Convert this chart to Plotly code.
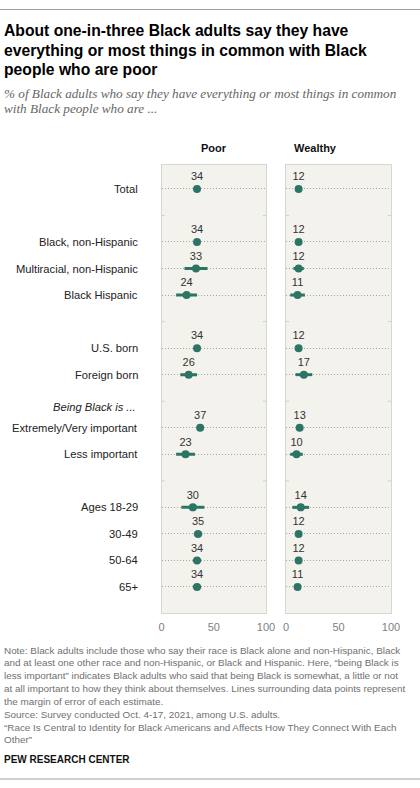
import plotly.graph_objects as go

# row order on the chart, blank strings are the gaps between groups
rows = ["Total", " ", "Black, non-Hispanic", "Multiracial, non-Hispanic",
        "Black Hispanic", "  ", "U.S. born", "Foreign born",
        "Being Black is ...", "Extremely/Very important", "Less important",
        "   ", "Ages 18-29", "30-49", "50-64", "65+"]

groups = ["Total", "Black, non-Hispanic", "Multiracial, non-Hispanic",
          "Black Hispanic", "U.S. born", "Foreign born",
          "Extremely/Very important", "Less important",
          "Ages 18-29", "30-49", "50-64", "65+"]

poor = [34, 34, 33, 24, 34, 26, 37, 23, 30, 35, 34, 34]
poor_moe = [2, 2, 11, 10, 2, 8, 3, 9, 11, 4, 4, 4]

wealthy = [12, 12, 12, 11, 12, 17, 13, 10, 14, 12, 12, 11]
wealthy_moe = [2, 2, 5, 7, 2, 8, 2, 6, 8, 3, 3, 3]

panels = ["Poor", "Wealthy"]
x_ticks = [0, 50, 100]

TEAL = "#2c7564"
W, H = 420, 788
SANS = "Liberation Sans, Arial, sans-serif"


def px(x):
    return x / W


def py(y):
    return 1 - y / H


fig = go.Figure()

for i, (vals, moe) in enumerate([(poor, poor_moe), (wealthy, wealthy_moe)]):
    sfx = "" if i == 0 else str(i + 1)
    fig.add_trace(go.Scatter(
        x=vals, y=groups, xaxis="x" + sfx, yaxis="y" + sfx,
        mode="markers+text", text=[str(v) for v in vals],
        textposition="top center",
        textfont=dict(family=SANS, size=11, color="#333333"),
        marker=dict(size=8, color=TEAL),
        error_x=dict(type="data", array=moe, thickness=3, width=0, color=TEAL),
        cliponaxis=False, hoverinfo="skip", showlegend=False))

x_domains = [[px(161.5), px(266)], [px(286), px(391)]]
y_domain = [py(613), py(165)]

axis_x = dict(range=[0, 100], tickvals=x_ticks, showgrid=False, zeroline=False,
              showline=True, mirror=True, linecolor="#d6d6d2", linewidth=1,
              ticks="", ticklabelstandoff=4, automargin=False,
              tickfont=dict(family=SANS, size=11, color="#808080"))
axis_y = dict(type="category", categoryorder="array", categoryarray=rows,
              range=[15.98, -0.9], tickvals=groups, showticklabels=False,
              showgrid=True, gridcolor="#a8a8a8", griddash="1px,2px", gridwidth=1,
              zeroline=False, showline=True, mirror=True, automargin=False,
              linecolor="#d6d6d2", linewidth=1, ticks="")

fig.update_layout(
    width=W, height=H, autosize=False,
    margin=dict(l=0, r=0, t=0, b=0, pad=0),
    paper_bgcolor="white", plot_bgcolor="#f3f2ed", showlegend=False,
    xaxis=dict(axis_x, domain=x_domains[0], anchor="y"),
    xaxis2=dict(axis_x, domain=x_domains[1], anchor="y2"),
    yaxis=dict(axis_y, domain=y_domain, anchor="x"),
    yaxis2=dict(axis_y, domain=y_domain, anchor="x2"),
)

ann = []

# left row labels
for g in groups:
    ann.append(dict(text=g, x=px(140), xref="paper", xanchor="right",
                    y=g, yref="y", yanchor="middle", showarrow=False,
                    font=dict(family=SANS, size=11.2, color="#222222")))
ann.append(dict(text="<i>Being Black is ...</i>", x=px(138), xref="paper",
                xanchor="right", y="Being Black is ...", yref="y",
                yanchor="middle", yshift=-6, showarrow=False,
                font=dict(family=SANS, size=11.2, color="#222222")))

# small tick marks at the gaps, on both panel edges
for i in range(2):
    sfx = "" if i == 0 else str(i + 1)
    for r in [" ", "  ", "Being Black is ...", "   "]:
        for x0, x1 in [(0, 0.03), (0.97, 1)]:
            fig.add_shape(type="line", xref="x%s domain" % sfx, yref="y" + sfx,
                          x0=x0, x1=x1, y0=r, y1=r,
                          line=dict(color="#cfcfcb", width=1))

# panel headers
for i, name in enumerate(panels):
    ann.append(dict(text="<b>%s</b>" % name, x=sum(x_domains[i]) / 2,
                    xref="paper", y=py(148), yref="paper", yanchor="middle",
                    showarrow=False,
                    font=dict(family=SANS, size=11, color="#111111")))

# title
title_lines = ["About one-in-three Black adults say they have",
               "everything or most things in common with Black",
               "people who are poor"]
for k, line in enumerate(title_lines):
    ann.append(dict(text="<b>%s</b>" % line, x=px(2), xref="paper",
                    xanchor="left", y=py(31 + 19.5 * k), yref="paper",
                    yanchor="middle", showarrow=False,
                    font=dict(family=SANS, size=15.7, color="#000000")))

subtitle_lines = ["% of Black adults who say they have everything or most things in common",
                  "with Black people who are ..."]
for k, line in enumerate(subtitle_lines):
    ann.append(dict(text="<i>%s</i>" % line, x=px(2), xref="paper",
                    xanchor="left", y=py(93 + 15.5 * k), yref="paper",
                    yanchor="middle", showarrow=False,
                    font=dict(family="Liberation Serif, serif", size=13.2,
                              color="#666666")))

note_lines = [
    "Note: Black adults include those who say their race is Black alone and non-Hispanic, Black",
    "and at least one other race and non-Hispanic, or Black and Hispanic. Here, \u201cbeing Black is",
    "less important\u201d indicates Black adults who said that being Black is somewhat, a little or not",
    "at all important to how they think about themselves. Lines surrounding data points represent",
    "the margin of error of each estimate.",
    "Source: Survey conducted Oct. 4-17, 2021, among U.S. adults.",
    "\u201cRace Is Central to Identity for Black Americans and Affects How They Connect With Each",
    "Other\u201d",
]
for k, line in enumerate(note_lines):
    ann.append(dict(text=line, x=px(2), xref="paper", xanchor="left",
                    y=py(650 + 12.85 * k), yref="paper", yanchor="middle",
                    showarrow=False,
                    font=dict(family=SANS, size=9.9, color="#707070")))

ann.append(dict(text="<b>PEW RESEARCH CENTER</b>", x=px(2), xref="paper",
                xanchor="left", y=py(759), yref="paper", yanchor="middle",
                showarrow=False,
                font=dict(family=SANS, size=10, color="#111111")))

fig.update_layout(annotations=ann)

# rules at top and bottom
for yy in [9.5, 779]:
    fig.add_shape(type="line", xref="paper", yref="paper", x0=0, x1=1,
                  y0=py(yy), y1=py(yy), line=dict(color="#a0a0a0", width=1))

# drop the page's default body margin so the figure sits at 0,0
page_js = ("document.documentElement.style.margin='0';"
           "document.body.style.margin='0';"
           "document.body.style.overflow='hidden';")
fig.write_html("out.html", config={"displayModeBar": False},
               post_script=page_js)
